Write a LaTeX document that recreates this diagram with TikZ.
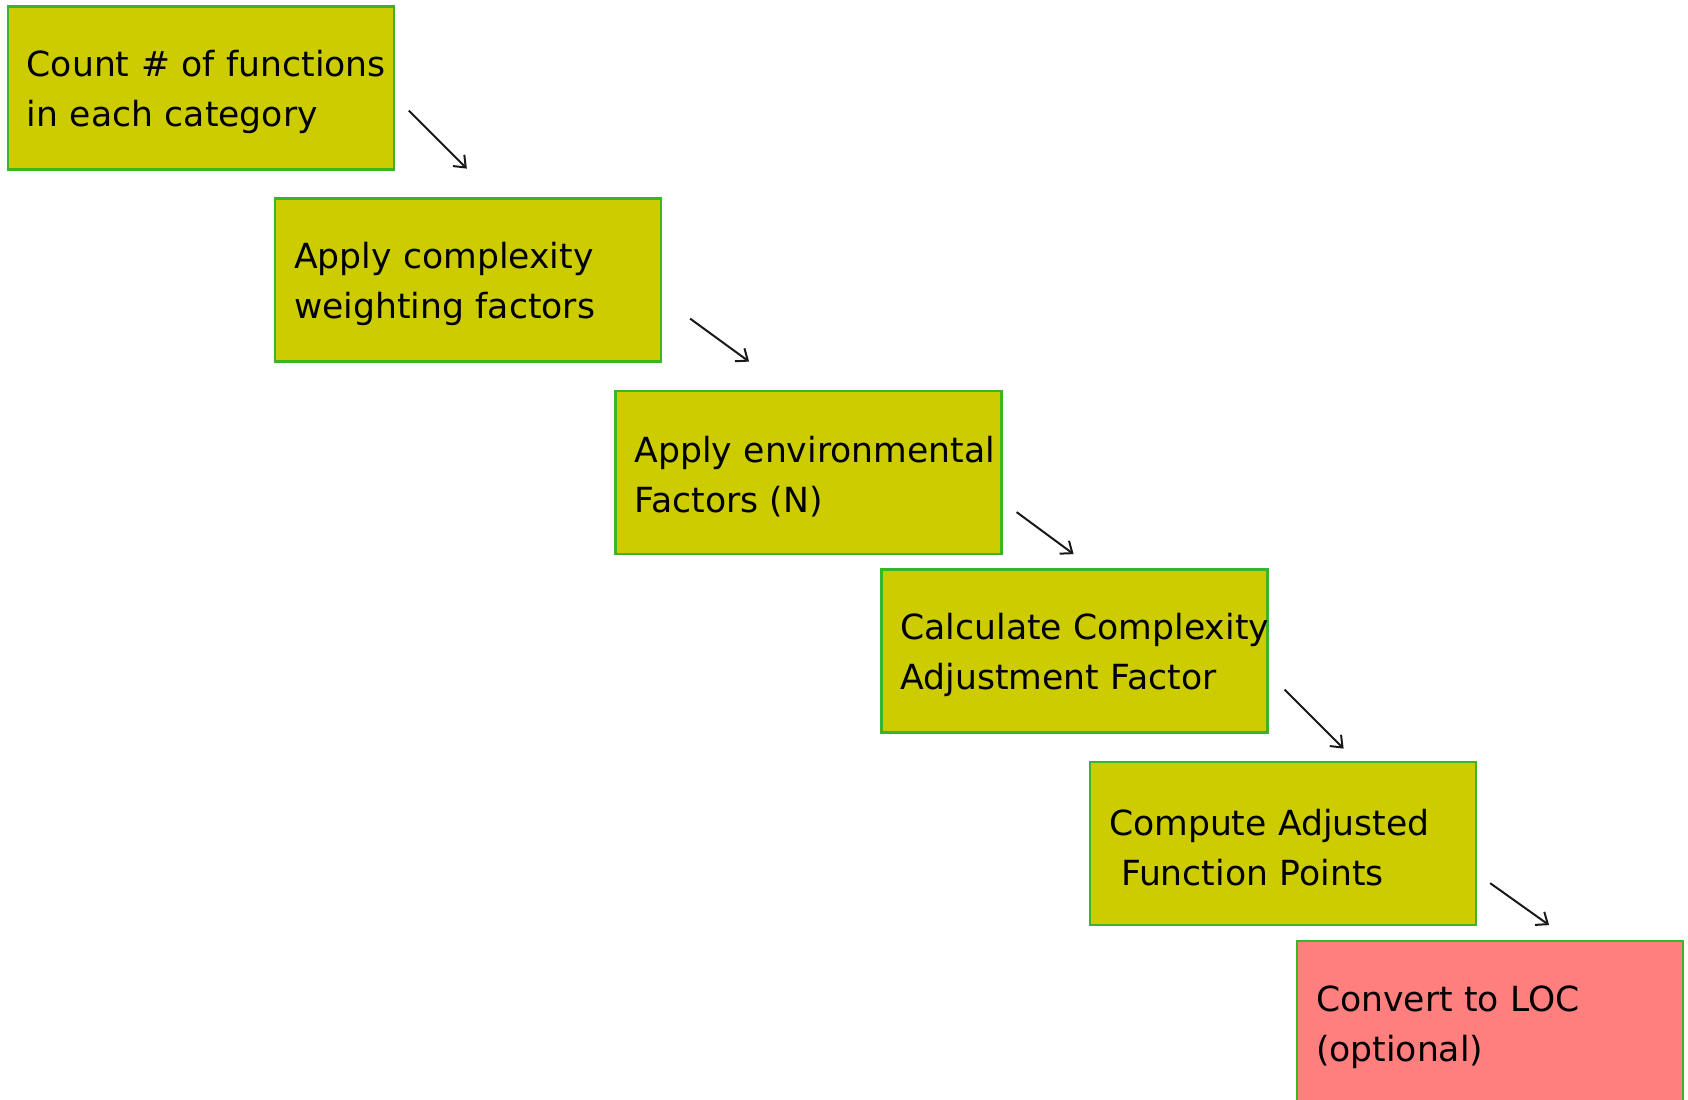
\documentclass[tikz,border=0pt]{standalone}
\usepackage{fontspec}
\setmainfont{DejaVu Sans}
\usetikzlibrary{arrows.meta}

\definecolor{boxyellow}{RGB}{204,204,0}
\definecolor{boxgreen}{RGB}{60,180,40}
\definecolor{boxred}{RGB}{255,126,126}

\begin{document}
\begin{tikzpicture}[x=0.5pt,y=-0.5pt,
    stepbox/.style={draw=boxgreen, line width=1.1pt, fill=boxyellow,
      minimum width=193pt, minimum height=81.5pt, text width=174pt,
      inner xsep=9.5pt, inner ysep=0pt, align=left,
      execute at begin node={\rule{0pt}{17.5pt}},
      font=\fontsize{17.3}{25}\selectfont},
    lastbox/.style={stepbox, fill=boxred},
    flow/.style={-{Straight Barb[length=5pt,width=8pt]}, line width=1pt, black!90}]

      \useasboundingbox (0,0) rectangle (1688,1099);

      % the steps, top left to bottom right
      \node[stepbox] (count) at (200.75,88) {\mbox{Count \# of functions}\\in each category};
      \node[stepbox] (weight) at (468,280) {Apply complexity\\weighting factors};
      \node[stepbox] (envir) at (808.5,472.5) {\mbox{Apply environmental}\\Factors (N)};
      \node[stepbox] (caf) at (1074.5,651) {\mbox{Calculate Complexity}\\Adjustment Factor};
      \node[stepbox] (afp) at (1283,843.5) {Compute Adjusted\\\hspace*{6pt}Function Points};
      \node[lastbox] (loc) at (1490,1022.5) {Convert to LOC\\(optional)};

      % arrow ends, next to each lower right corner
      \coordinate (a1s) at ([shift={(14,-60)}]count.south east);
      \coordinate (a1e) at ([shift={(72,-2)}]count.south east);
      \coordinate (a2s) at ([shift={(28,-44)}]weight.south east);
      \coordinate (a2e) at ([shift={(87,-1)}]weight.south east);
      \coordinate (a3s) at ([shift={(14,-43)}]envir.south east);
      \coordinate (a3e) at ([shift={(71,-1)}]envir.south east);
      \coordinate (a4s) at ([shift={(16,-44)}]caf.south east);
      \coordinate (a4e) at ([shift={(75,15)}]caf.south east);
      \coordinate (a5s) at ([shift={(13,-43)}]afp.south east);
      \coordinate (a5e) at ([shift={(72,-1)}]afp.south east);

      % arrows from step to step
      \draw[flow] (a1s) -- (a1e);
      \draw[flow] (a2s) -- (a2e);
      \draw[flow] (a3s) -- (a3e);
      \draw[flow] (a4s) -- (a4e);
      \draw[flow] (a5s) -- (a5e);

\end{tikzpicture}
\end{document}
